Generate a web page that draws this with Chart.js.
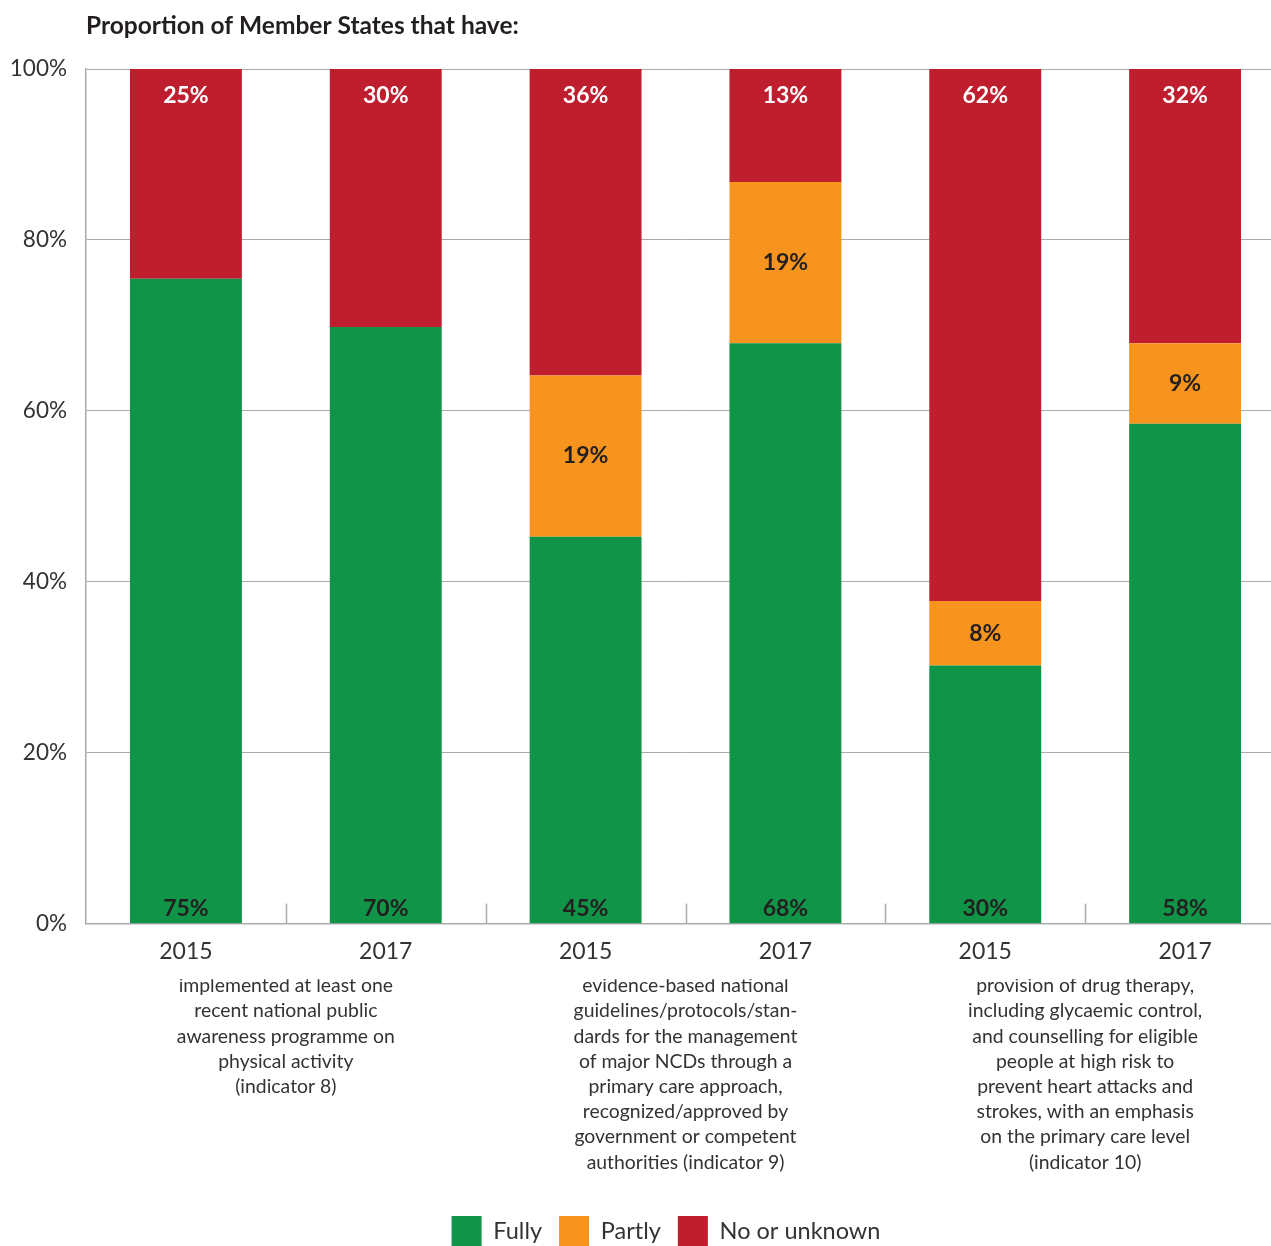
<!DOCTYPE html>
<html>
<head>
<meta charset="utf-8">
<script src="https://cdn.jsdelivr.net/npm/chart.js@4.4.1/dist/chart.umd.min.js"></script>
<style>
  html, body { margin: 0; padding: 0; background: #fff; overflow: hidden; }
  #wrap { position: relative; width: 1285px; height: 1246px; }
</style>
</head>
<body>
<div id="wrap"><canvas id="c"></canvas></div>
<script>
// ---- Data ----
const titleText = 'Proportion of Member States that have:';
const years = ['2015', '2017', '2015', '2017', '2015', '2017'];
const groupLabels = [
  ['implemented at least one', 'recent national public', 'awareness programme on', 'physical activity', '(indicator 8)'],
  ['evidence-based national', 'guidelines/protocols/stan-', 'dards for the management', 'of major NCDs through a', 'primary care approach,', 'recognized/approved by', 'government or competent', 'authorities (indicator 9)'],
  ['provision of drug therapy,', 'including glycaemic control,', 'and counselling for eligible', 'people at high risk to', 'prevent heart attacks and', 'strokes, with an emphasis', 'on the primary care level', '(indicator 10)']
];
const fully   = [75.47, 69.81, 45.28, 67.92, 30.19, 58.49];
const partly  = [0, 0, 18.87, 18.87, 7.55, 9.43];
const noUnk   = [24.53, 30.19, 35.85, 13.21, 62.26, 32.08];
const seriesNames = ['Fully', 'Partly', 'No or unknown'];
const yTicks = [0, 20, 40, 60, 80, 100];

const FONT = 'Lato, "Open Sans", sans-serif';
const GREEN = '#109447', ORANGE = '#F7941E', RED = '#BE1E2D';
const GRID = '#ababab';
const TXT = '#333333';
const Y_FONT_SIZE = 22.5;

// measure widest y label so right-aligned labels end 19px left of the axis
const mctx = document.createElement('canvas').getContext('2d');
mctx.font = Y_FONT_SIZE + 'px ' + FONT;
const widestY = Math.max(...yTicks.map(v => mctx.measureText(v + '%').width));

const titlePlugin = {
  id: 'leftTitle',
  afterDraw(chart) {
    const ctx = chart.ctx;
    ctx.save();
    ctx.font = 'bold 24.5px ' + FONT;
    ctx.fillStyle = '#231F20';
    ctx.textAlign = 'left';
    ctx.textBaseline = 'middle';
    ctx.fillText(titleText, chart.chartArea.left, 26);
    ctx.restore();
  }
};

const innerTicks = {
  id: 'innerTicks',
  afterDatasetsDraw(chart) {
    const xs = chart.scales.x;
    const ctx = chart.ctx;
    const bottom = chart.chartArea.bottom;
    ctx.save();
    ctx.strokeStyle = GRID;
    ctx.lineWidth = 1.5;
    for (let i = 1; i < years.length; i++) {
      const xp = Math.round((xs.getPixelForTick(i - 1) + xs.getPixelForTick(i)) / 2) + 0.5;
      ctx.beginPath();
      ctx.moveTo(xp, bottom - 20);
      ctx.lineTo(xp, bottom);
      ctx.stroke();
    }
    ctx.restore();
  }
};

const valueLabels = {
  id: 'valueLabels',
  afterDatasetsDraw(chart) {
    const ctx = chart.ctx;
    ctx.save();
    ctx.font = 'bold 23px ' + FONT;
    ctx.textAlign = 'center';
    ctx.textBaseline = 'middle';
    chart.data.datasets.forEach((ds, di) => {
      const meta = chart.getDatasetMeta(di);
      meta.data.forEach((el, i) => {
        const v = ds.data[i];
        if (!v) return;
        const txt = Math.round(v) + '%';
        let y;
        if (di === 0) { y = el.base - 15; ctx.fillStyle = '#231F20'; }
        else if (di === 1) { y = (el.y + el.base) / 2; ctx.fillStyle = '#231F20'; }
        else { y = el.y + 27; ctx.fillStyle = '#ffffff'; }
        ctx.fillText(txt, el.x, y);
      });
    });
    ctx.restore();
  }
};

new Chart(document.getElementById('c'), {
  type: 'bar',
  data: {
    labels: years,
    datasets: [
      { label: seriesNames[0], data: fully,  backgroundColor: GREEN },
      { label: seriesNames[1], data: partly, backgroundColor: ORANGE },
      { label: seriesNames[2], data: noUnk,  backgroundColor: RED }
    ]
  },
  options: {
    responsive: true,
    maintainAspectRatio: false,
    animation: false,
    layout: { padding: { top: 69, left: 47, right: 0, bottom: -10 } },
    datasets: { bar: { barPercentage: 0.56, categoryPercentage: 1.0 } },
    plugins: {
      title: { display: false },
      tooltip: { enabled: false },
      legend: {
        position: 'bottom',
        labels: {
          boxWidth: 30, boxHeight: 30, padding: 17,
          color: TXT,
          font: { family: FONT, size: 23.5 }
        }
      }
    },
    scales: {
      x: {
        stacked: true,
        weight: 1,
        grid: { display: false, drawTicks: false },
        border: { display: true, color: GRID, width: 1.5 },
        ticks: { color: TXT, font: { family: FONT, size: 23 }, padding: 14, maxRotation: 0, autoSkip: false }
      },
      x2: {
        type: 'category',
        labels: groupLabels,
        position: 'bottom',
        weight: 2,
        offset: true,
        afterFit(s) { s.height += 30; },
        grid: { display: false, drawTicks: false },
        border: { display: false },
        ticks: { color: TXT, font: { family: FONT, size: 19.4, lineHeight: 1.3 }, padding: -6, maxRotation: 0, autoSkip: false }
      },
      y: {
        stacked: true,
        min: 0, max: 100,
        afterFit(s) { s.width = 39; },
        afterBuildTicks(s) { s.ticks = yTicks.map(v => ({ value: v })); },
        grid: { color: GRID, lineWidth: 1, drawTicks: false },
        border: { display: true, color: GRID, width: 1.5 },
        ticks: {
          color: TXT, font: { family: FONT, size: Y_FONT_SIZE },
          mirror: true, crossAlign: 'far', padding: -(19 + widestY),
          callback: v => v + '%'
        }
      }
    }
  },
  plugins: [titlePlugin, innerTicks, valueLabels]
});
</script>
</body>
</html>
